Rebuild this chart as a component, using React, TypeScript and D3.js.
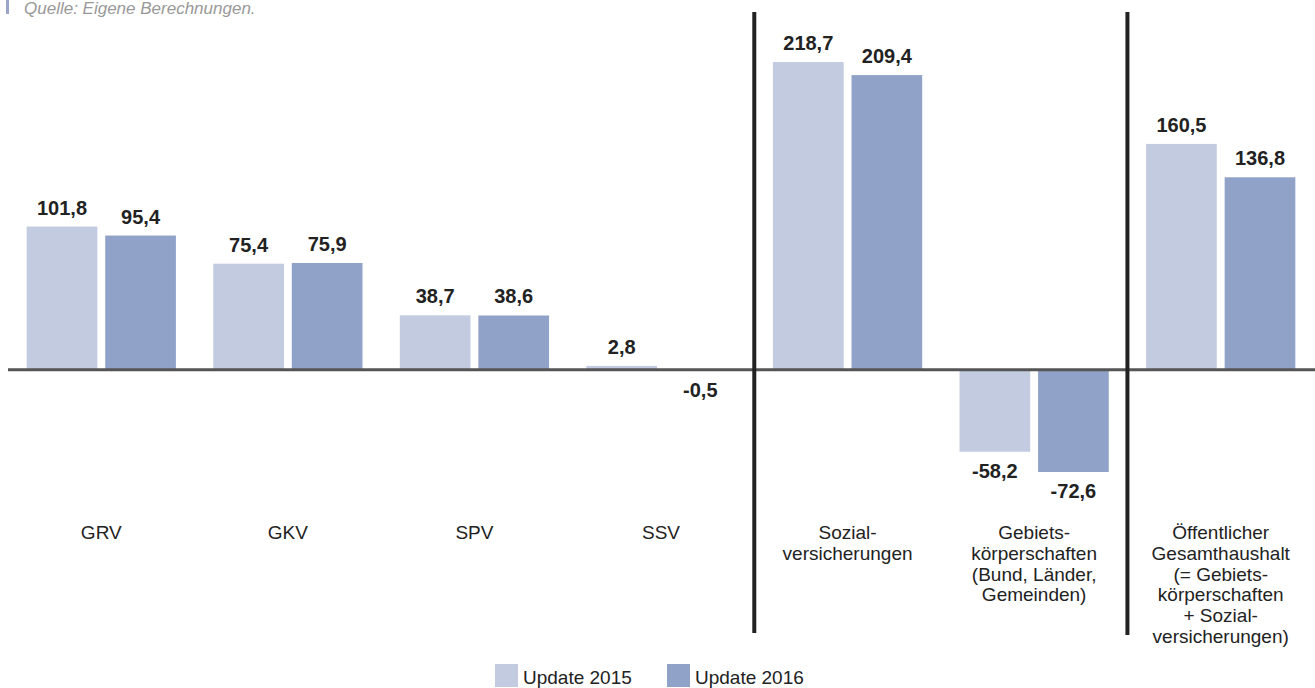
import * as d3 from 'd3';
import React, { useEffect, useRef } from 'react';

const categories = [
  ['GRV'],
  ['GKV'],
  ['SPV'],
  ['SSV'],
  ['Sozial-', 'versicherungen'],
  ['Gebiets-', 'körperschaften', '(Bund, Länder,', 'Gemeinden)'],
  ['Öffentlicher', 'Gesamthaushalt', '(= Gebiets-', 'körperschaften', '+ Sozial-', 'versicherungen)'],
];
const keys = ['GRV', 'GKV', 'SPV', 'SSV', 'SV', 'GK', 'OG'];
const update2015 = [101.8, 75.4, 38.7, 2.8, 218.7, -58.2, 160.5];
const update2016 = [95.4, 75.9, 38.6, -0.5, 209.4, -72.6, 136.8];
const seriesNames = ['Update 2015', 'Update 2016'];
const seriesColors = ['#c3cbe0', '#91a2c8'];

const WIDTH = 1315;
const HEIGHT = 688;
const FONT = '"Liberation Sans", Arial, sans-serif';

export default function App() {
  const ref = useRef(null);

  useEffect(() => {
    const svg = d3.select(ref.current);
    svg.selectAll('*').remove();

    const x = d3.scaleBand<string>().domain(keys).range([8, 1314]).paddingInner(0.2).paddingOuter(0.1);
    const xs = d3.scaleBand<string>().domain(seriesNames).range([0, x.bandwidth()]).paddingInner(0.1);
    const y = d3.scaleLinear().domain([-72.6, 218.7]).range([472, 62]);
    const fmt = (v: number) => v.toFixed(1).replace('.', ',');

    // source note
    svg.append('rect').attr('x', 6).attr('y', 0).attr('width', 3).attr('height', 14).attr('fill', '#9aa5cc');
    svg
      .append('text')
      .attr('x', 24)
      .attr('y', 14)
      .attr('font-family', FONT)
      .attr('font-style', 'italic')
      .attr('font-size', 17)
      .attr('fill', '#999')
      .text('Quelle: Eigene Berechnungen.');

    const rows = keys.map((k, i) => ({ key: k, values: [update2015[i], update2016[i]] }));

    const groups = svg
      .append('g')
      .selectAll('g')
      .data(rows)
      .join('g')
      .attr('transform', (d) => `translate(${x(d.key)},0)`);

    groups
      .selectAll('rect')
      .data((d) => d.values.map((v, j) => ({ v, s: seriesNames[j], j })))
      .join('rect')
      .attr('x', (d) => xs(d.s)!)
      .attr('width', xs.bandwidth())
      .attr('y', (d) => Math.min(y(d.v), y(0)))
      .attr('height', (d) => Math.max(Math.abs(y(d.v) - y(0)), 1))
      .attr('fill', (d) => seriesColors[d.j]);

    groups
      .selectAll('text.val')
      .data((d) => d.values.map((v, j) => ({ v, s: seriesNames[j] })))
      .join('text')
      .attr('class', 'val')
      .attr('x', (d) => xs(d.s)! + xs.bandwidth() / 2)
      .attr('y', (d) => (d.v >= 0 ? y(d.v) - 12 : Math.max(y(d.v), y(0)) + 26))
      .attr('text-anchor', 'middle')
      .attr('font-family', FONT)
      .attr('font-weight', 'bold')
      .attr('font-size', 20)
      .attr('fill', '#222')
      .text((d) => fmt(d.v));

    // zero line
    svg
      .append('line')
      .attr('x1', 8)
      .attr('x2', WIDTH)
      .attr('y1', y(0))
      .attr('y2', y(0))
      .attr('stroke', '#555')
      .attr('stroke-width', 3);

    // separators
    const step = x.step();
    [['SV', 633], ['OG', 635]].forEach(([k, bottom]) => {
      const sx = (x(k as string) as number) - step * 0.1;
      svg
        .append('line')
        .attr('x1', sx)
        .attr('x2', sx)
        .attr('y1', 12)
        .attr('y2', bottom as number)
        .attr('stroke', '#222')
        .attr('stroke-width', 4);
    });

    // category labels
    const labels = svg
      .append('g')
      .attr('font-family', FONT)
      .attr('font-size', 19)
      .attr('fill', '#222')
      .attr('text-anchor', 'middle')
      .selectAll('text')
      .data(keys.map((k, i) => ({ key: k, lines: categories[i] })))
      .join('text')
      .attr('transform', (d) => `translate(${x(d.key)! + x.bandwidth() / 2},539)`);

    labels
      .selectAll('tspan')
      .data((d) => d.lines)
      .join('tspan')
      .attr('x', 0)
      .attr('y', (_, i) => i * 20.8)
      .text((d) => d);

    // legend
    const legend = svg
      .append('g')
      .selectAll('g')
      .data(seriesNames)
      .join('g')
      .attr('transform', (_, i) => `translate(${495 + i * 172},664)`);
    legend.append('rect').attr('width', 23).attr('height', 23).attr('fill', (_, i) => seriesColors[i]);
    legend
      .append('text')
      .attr('x', 28)
      .attr('y', 20)
      .attr('font-family', FONT)
      .attr('font-size', 19)
      .attr('fill', '#222')
      .text((d) => d);
  });

  return (
    <svg
      ref={ref}
      width={WIDTH}
      height={HEIGHT}
      style={{ position: 'absolute', left: 0, top: 0, background: '#fff' }}
    ></svg>
  );
}
